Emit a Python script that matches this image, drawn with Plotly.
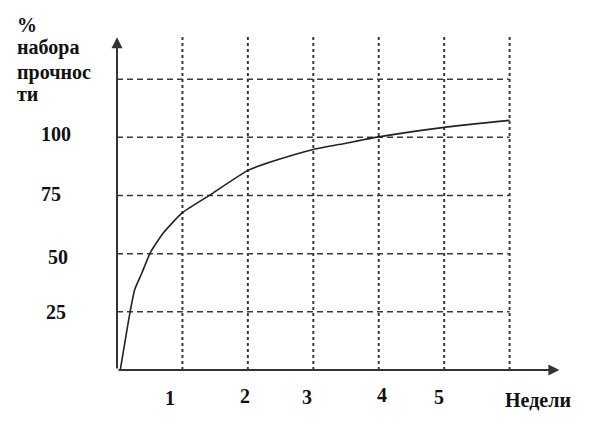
import plotly.graph_objects as go

# Data
weeks = [0.05, 0.2, 0.27, 0.38, 0.51, 0.71, 1.0, 1.42, 2.0, 2.38, 3.0, 3.5, 4.0, 5.0, 6.0]
strength = [0, 25, 34.5, 41.7, 50.5, 59, 67.6, 75.2, 85.8, 89.7, 94.8, 97.5, 100.2, 104.3, 107.3]

x_grid = [1, 2, 3, 4, 5, 6]
y_grid = [25, 50, 75, 100, 125]

x_tick_labels = ["1", "2", "3", "4", "5"]
y_tick_labels = ["25", "50", "75", "100"]
y_tick_values = [25, 50, 75, 100]

title_lines = ["%", "набора", "прочнос", "ти"]
x_title = "Недели"

# layout helpers (page has an 8px body margin)
X_MAX = 6.77
Y_MAX = 144
FONT = dict(family="Liberation Serif", size=20, color="#111111")
GRID_COLOR = "#3a3a3a"

fig = go.Figure()
fig.add_trace(go.Scatter(
    x=weeks, y=strength, mode="lines",
    line=dict(color="#222222", width=1.6, shape="spline", smoothing=0.5),
    hoverinfo="skip", showlegend=False,
))

shapes = []
for gx in x_grid:
    shapes.append(dict(type="line", xref="x", yref="y", x0=gx, x1=gx, y0=0, y1=Y_MAX,
                       line=dict(color=GRID_COLOR, width=2, dash="3px,3px"), layer="below"))
for gy in y_grid:
    shapes.append(dict(type="line", xref="x", yref="y", x0=0, x1=max(x_grid), y0=gy, y1=gy,
                       line=dict(color=GRID_COLOR, width=1.5, dash="6px,4px"), layer="below"))

annotations = []
# axes with arrows
annotations.append(dict(x=X_MAX - 0.01, y=0, ax=0, ay=0, xref="x", yref="y", axref="x", ayref="y",
                        text="", showarrow=True, arrowhead=2, arrowsize=1.1, arrowwidth=2,
                        arrowcolor="#333333"))
annotations.append(dict(x=0, y=Y_MAX - 1, ax=0, ay=0, xref="x", yref="y", axref="x", ayref="y",
                        text="", showarrow=True, arrowhead=2, arrowsize=1.1, arrowwidth=2,
                        arrowcolor="#333333"))

# x tick labels (positions, in page pixels)
label_x_px = [170, 245, 307, 382, 439]
label_y_px = [398, 396, 397, 395, 397]
def px_to_paper_x(px):
    return (px - 117) / 443
def px_to_paper_y(py):
    return (370 - py) / 335

for t, lx, ly in zip(x_tick_labels, label_x_px, label_y_px):
    annotations.append(dict(text="<b>%s</b>" % t, x=px_to_paper_x(lx), y=px_to_paper_y(ly),
                            xref="paper", yref="paper", showarrow=False, font=FONT,
                            xanchor="center", yanchor="middle"))
annotations.append(dict(text="<b>%s</b>" % x_title, x=px_to_paper_x(538), y=px_to_paper_y(400),
                        xref="paper", yref="paper", showarrow=False, font=FONT,
                        xanchor="center", yanchor="middle"))

# y tick labels
ylab_x_px = [56, 58, 51, 56]
ylab_shift = [0, -3, 2, 3]
for t, v, lx, sh in zip(y_tick_labels, y_tick_values, ylab_x_px, ylab_shift):
    annotations.append(dict(text="<b>%s</b>" % t, x=px_to_paper_x(lx), y=v, yshift=sh,
                            xref="paper", yref="y", showarrow=False, font=FONT,
                            xanchor="center", yanchor="middle"))

# y axis title block
title_y_px = [25, 48, 72, 94]
for t, ty in zip(title_lines, title_y_px):
    annotations.append(dict(text="<b>%s</b>" % t, x=px_to_paper_x(15), y=px_to_paper_y(ty),
                            xref="paper", yref="paper", showarrow=False, font=FONT,
                            xanchor="left", yanchor="middle"))

fig.update_layout(
    width=592, height=421,
    margin=dict(l=109, r=40, t=27, b=59),
    paper_bgcolor="white", plot_bgcolor="white",
    xaxis=dict(range=[0, X_MAX], showgrid=False, zeroline=False, showline=False,
               showticklabels=False, ticks=""),
    yaxis=dict(range=[0, Y_MAX], showgrid=False, zeroline=False, showline=False,
               showticklabels=False, ticks=""),
    shapes=shapes, annotations=annotations,
    showlegend=False,
)

fig.write_html("out.html")
